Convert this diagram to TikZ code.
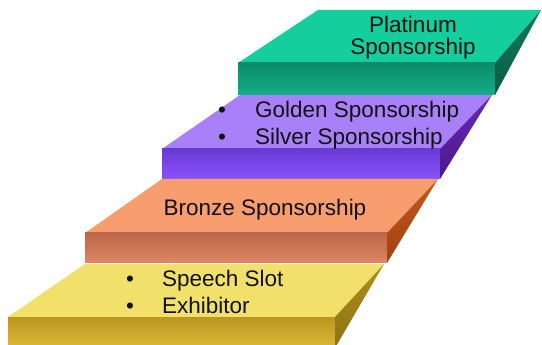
\documentclass[tikz,border=0pt]{standalone}
\usepackage{fontspec}
\setmainfont{Liberation Sans}
\definecolor{ytop}{HTML}{F1E16A}
\definecolor{yfa}{HTML}{BC961F}
\definecolor{yfb}{HTML}{DCB938}
\definecolor{ysa}{HTML}{AE8F1A}
\definecolor{ysb}{HTML}{8E7212}
\definecolor{otop}{HTML}{F89D6D}
\definecolor{ofa}{HTML}{BE664A}
\definecolor{ofb}{HTML}{DD8764}
\definecolor{osa}{HTML}{C4581C}
\definecolor{osb}{HTML}{A04212}
\definecolor{ptop}{HTML}{A780FA}
\definecolor{pfa}{HTML}{6A3AD4}
\definecolor{pfb}{HTML}{8A52FB}
\definecolor{psa}{HTML}{6629B4}
\definecolor{psb}{HTML}{4C178E}
\definecolor{gtop}{HTML}{14CE9E}
\definecolor{gfa}{HTML}{0C8C6B}
\definecolor{gfb}{HTML}{12AE86}
\definecolor{gsa}{HTML}{0F7A5C}
\definecolor{gsb}{HTML}{0A5C45}
\definecolor{txt}{HTML}{111111}
% #1 xfl, #2 xfr, #3 xbl, #4 xbr, #5 yback, #6 yfront, #7 ybottom, #8 colour prefix
\newcommand\stairstep[8]{%
  \fill[#8top] (#3,-#5) -- (#4,-#5) -- (#2,-#6) -- (#1,-#6) -- cycle;
  \shade[top color=#8fa, bottom color=#8fb] (#1,-#6) rectangle (#2,-#7);
  \shade[top color=#8sa, bottom color=#8sb] (#4,-#5) -- (#2,-#6) -- (#2,-#7) -- cycle;
}
\tikzset{
  lbl/.style={text=txt, font=\fontsize{22.5}{22.5}\selectfont, inner sep=0pt},
}
\begin{document}
\begin{tikzpicture}[x=1pt,y=1pt]
\useasboundingbox (0,0) rectangle (542,-345);
\fill[white] (0,0) rectangle (542,-345);
% steps from top to bottom so lower ones overlap
\stairstep{238}{495}{318}{541}{10}{63}{95}{g}
\stairstep{162}{440}{240}{492}{95}{149}{179}{p}
\stairstep{85}{387}{162}{438}{179}{233}{263}{o}
\stairstep{8}{335}{85}{384}{264}{317}{348}{y}
% texts
\node[lbl, anchor=base] (plat1) at (413,-33) {Platinum};
\node[lbl, anchor=base] (plat2) at (413,-55) {Sponsorship};
\node[lbl, anchor=base] (gb) at (222,-118) {•};
\node[lbl, anchor=base west] (gold) at (255,-118) {Golden Sponsorship};
\node[lbl, anchor=base] (sb) at (222,-145) {•};
\node[lbl, anchor=base west] (silv) at (255,-145) {Silver Sponsorship};
\node[lbl, anchor=base] (bron) at (265,-215) {Bronze Sponsorship};
\node[lbl, anchor=base] (b1) at (130,-287) {•};
\node[lbl, anchor=base west] (speech) at (162,-287) {Speech Slot};
\node[lbl, anchor=base] (b2) at (130,-313) {•};
\node[lbl, anchor=base west] (exh) at (162,-313) {Exhibitor};
\end{tikzpicture}
\end{document}
